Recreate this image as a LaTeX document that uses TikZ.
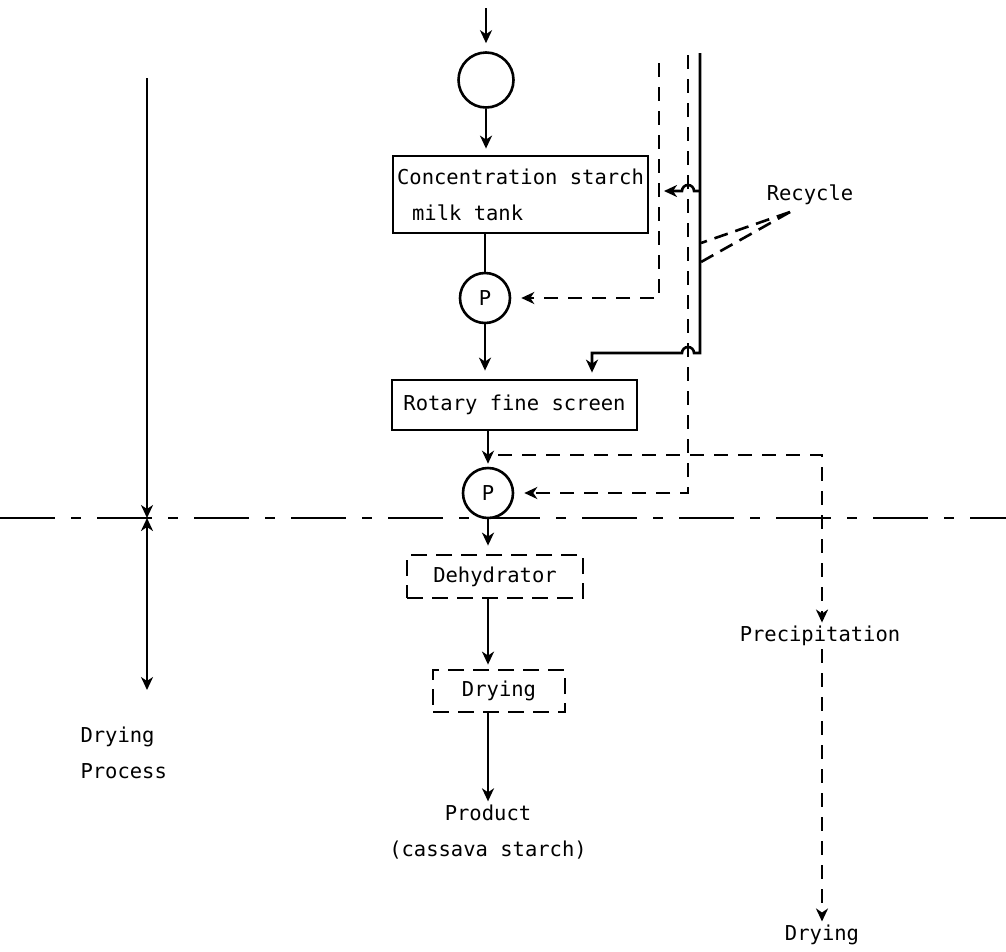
\documentclass[tikz,border=0pt]{standalone}
\usepackage{fontspec}
\setmonofont{DejaVu Sans Mono}
\usetikzlibrary{arrows.meta}
\begin{document}
\begin{tikzpicture}[x=1pt,y=-1pt,
  every node/.style={font=\ttfamily\fontsize{20.5}{36}\selectfont},
  tip/.style={-{Stealth[length=13pt,width=12pt,inset=4pt]}},
  ln/.style={line width=2.6pt},
  arr/.style={ln,tip},
  dsh/.style={ln,dash pattern=on 14pt off 10pt},
  box/.style={draw,line width=2.8pt,inner sep=0pt},
  dbox/.style={box,dash pattern=on 16pt off 9pt},
  pump/.style={draw,circle,line width=2.6pt,inner sep=0pt,minimum size=50pt},
]
\useasboundingbox (0,0) rectangle (1006,951);

% nodes
\node[pump,minimum size=55pt] (feed) at (486,80) {};
\node[box,minimum width=255pt,minimum height=77pt,align=left] (tank) at (520.5,194.5) {Concentration starch\\\hspace*{15pt}milk tank};
\node[pump] (p1) at (485,298) {P};
\node[box,minimum width=245pt,minimum height=50pt] (screen) at (514.5,405) {Rotary fine screen};
\node[pump] (p2) at (488,493) {P};
\node[dbox,minimum width=176pt,minimum height=43pt] (dehyd) at (495,576.5) {Dehydrator};
\node[dbox,minimum width=132pt,minimum height=42pt] (dry) at (499,691) {Drying};
\node[align=center] (prod) at (488,832) {Product\\(cassava starch)};
\node[align=left,anchor=west] (dp) at (77,753) {Drying\\Process};
\node (prec) at (820,636) {Precipitation};
\node (dry2) at (822,935) {Drying};
\node (rec) at (810,195) {Recycle};

% coordinates
\coordinate (in) at (486,8);
\coordinate (Ltop) at (147,78);
\coordinate (Lmid) at (147,518);
\coordinate (Lbot) at (147,690);
\coordinate (DL) at (0,518);
\coordinate (DR) at (1006,518);
\coordinate (Atop) at (659,63);
\coordinate (Btop) at (688,55);
\coordinate (Ctop) at (700,53);
\coordinate (Cc) at (700,353);
\coordinate (Ct) at (592,353);
\coordinate (Cb) at (700,191);
\coordinate (Ctip) at (664,191);
\coordinate (S0) at (498,455);
\coordinate (S1) at (822,455);
\coordinate (R0) at (790,212);
\coordinate (R1) at (701,243);
\coordinate (R2) at (701,262);

% main spine
\draw[arr,shorten >=8pt] (in) -- (feed);
\draw[arr,shorten >=6pt] (feed) -- (feed |- tank.north);
\draw[ln] (tank.south -| p1) -- (p1);
\draw[arr,shorten >=8pt] (p1) -- (p1 |- screen.north);
\draw[arr,shorten >=3pt] (screen.south -| p2) -- (p2);
\draw[arr,shorten >=8pt] (p2) -- (p2 |- dehyd.north);
\draw[arr,shorten >=4pt] (dehyd.south -| p2) -- (dry.north -| p2);
\draw[arr] (dry.south -| p2) -- (prod.north -| p2);

% left drying process line
\draw[arr] (Ltop) -- (Lmid);
\draw[ln,{Stealth[length=13pt,width=12pt,inset=4pt]}-{Stealth[length=13pt,width=12pt,inset=4pt]}] (Lmid) -- (Lbot);
\draw[ln,dash pattern=on 55pt off 16pt on 10pt off 16pt] (DL) -- (DR);

% solid feed line C
\draw[arr,shorten >=6pt] (Ctop) -- (Cc) -- ++(-6,0) arc[start angle=0,end angle=180,radius=6pt] -- (Ct) -- (Ct |- screen.north);
\draw[arr] (Cb) -- ++(-6,0) arc[start angle=0,end angle=180,radius=6pt] -- (Ctip);

% dashed recycle lines
\draw[dsh,tip,shorten >=10pt] (Atop) -- (Atop |- p1.east) -- (p1.east);
\draw[dsh,tip,shorten >=10pt] (Btop) -- (Btop |- p2.east) -- (p2.east);

% precipitation branch
\draw[dsh,tip] (S0) -- (S1) -- (S1 |- prec.north);
\draw[dsh,tip] (prec.south -| S1) -- (dry2.north -| S1);

% recycle leaders
\draw[ln,dash pattern=on 14pt off 8pt] (R0) -- (R1);
\draw[ln,dash pattern=on 14pt off 8pt] (R0) -- (R2);
\end{tikzpicture}
\end{document}
